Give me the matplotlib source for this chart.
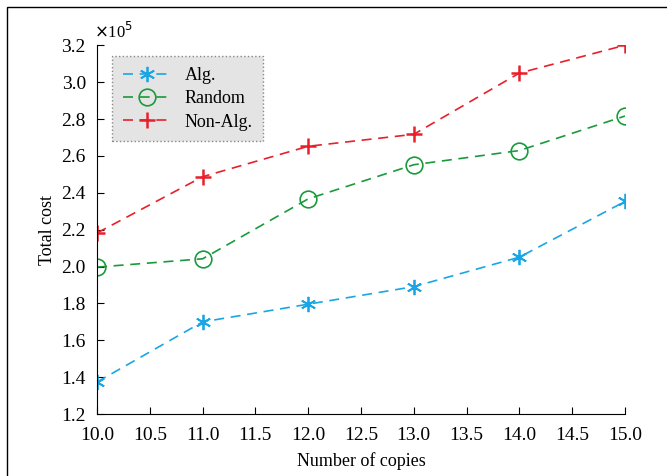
import matplotlib
matplotlib.use("Agg")
import matplotlib.pyplot as plt
from matplotlib.patches import Rectangle

plt.rcParams['font.family'] = ['Liberation Serif', 'DejaVu Serif']

# datos (en unidades de 1e5)
copias = [10, 11, 12, 13, 14, 15]
costo_alg = [1.374, 1.70, 1.796, 1.891, 2.051, 2.353]
costo_random = [1.997, 2.042, 2.367, 2.552, 2.629, 2.816]
costo_non_alg = [2.182, 2.487, 2.652, 2.717, 3.049, 3.20]

fig = plt.figure(figsize=(6.67, 4.76), dpi=100)
ax = fig.add_axes([0.1454, 0.130, 0.7916, 0.775])

# marco exterior de la figura
fig.patches.append(Rectangle((0.0105, -0.05), 1.2, 1.035, transform=fig.transFigure,
                             fill=False, edgecolor='black', linewidth=1.0))

ax.plot(copias, costo_alg, linestyle=(0, (6, 4)), color='#1aa6e4', marker=(6, 2, 0),
        markersize=11, markeredgewidth=1.3, linewidth=1.2, label='Alg.')
ax.plot(copias, costo_random, linestyle=(0, (6, 4)), color='#1a9a3c', marker='o',
        markersize=12, markerfacecolor='none', markeredgewidth=1.2, linewidth=1.2, label='Random')
ax.plot(copias, costo_non_alg, linestyle=(0, (6, 4)), color='#e8202a', marker='+',
        markersize=12, markeredgewidth=1.8, linewidth=1.2, label='Non-Alg.')

ax.set_xlim(10, 15)
ax.set_ylim(1.2, 3.2)
ax.set_xticks([10 + 0.5 * i for i in range(11)])
ax.set_xticklabels(['{:.1f}'.format(10 + 0.5 * i) for i in range(11)])
ax.set_yticks([1.2 + 0.2 * i for i in range(11)])
ax.set_yticklabels(['{:.1f}'.format(1.2 + 0.2 * i) for i in range(11)])
ax.tick_params(direction='in', labelsize=14, length=5, width=0.8)
ax.tick_params(axis='x', pad=9)
ax.tick_params(axis='y', pad=8)

ax.spines['top'].set_visible(False)
ax.spines['right'].set_visible(False)

ax.set_xlabel('Number of copies', fontsize=13, labelpad=6)
ax.set_ylabel('Total cost', fontsize=13, labelpad=4)

ax.text(-0.005, 1.01, r'$\times$10$^5$', transform=ax.transAxes, fontsize=12,
        ha='left', va='bottom')

leg = ax.legend(loc='upper left', bbox_to_anchor=(0.012, 0.995), fontsize=13,
                handlelength=2.6, borderpad=0.6, labelspacing=0.35, fancybox=False)
leg.get_frame().set_facecolor('#e4e4e4')
leg.get_frame().set_alpha(1)
leg.get_frame().set_edgecolor('#888888')
leg.get_frame().set_linestyle(':')
leg.get_frame().set_linewidth(1.0)

fig.savefig('out.png', dpi=100)
